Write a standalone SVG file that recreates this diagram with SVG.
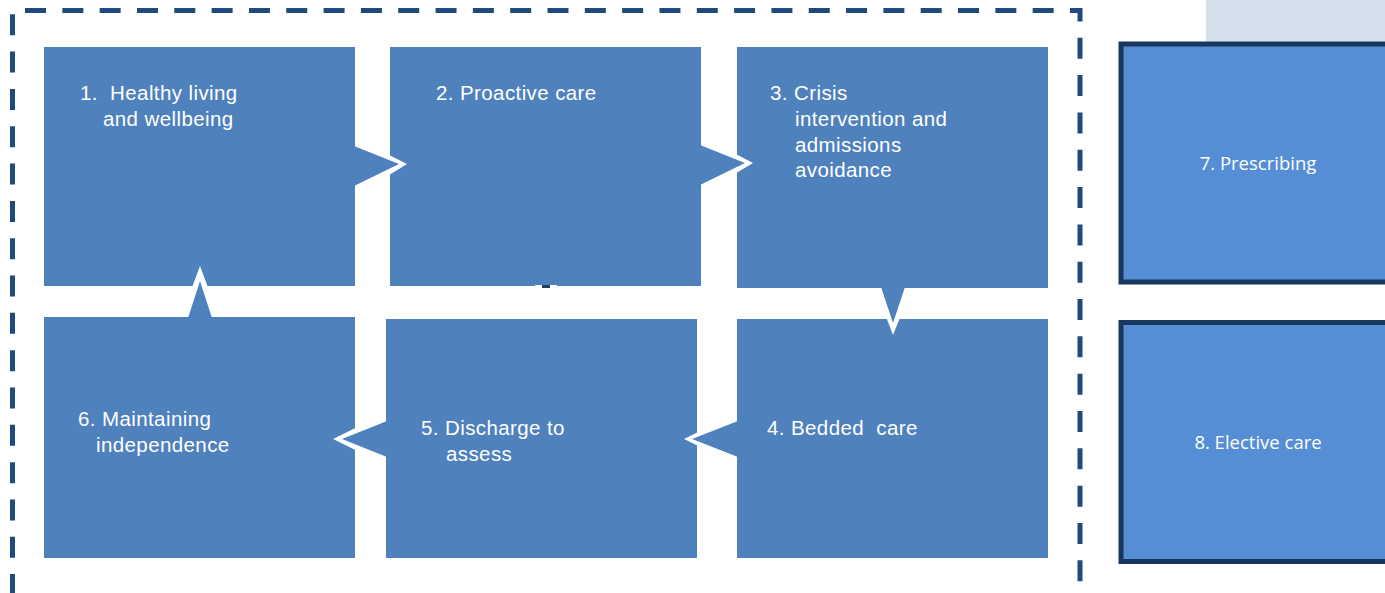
<svg xmlns="http://www.w3.org/2000/svg" width="1385" height="593" viewBox="0 0 1385 593">
<style>
.box{fill:#4f81bd}
.side{fill:#558ed5;stroke:#17375e;stroke-width:5}
.halo{fill:#ffffff}
.tip{fill:#4f81bd}
.t{font-family:"Liberation Sans",Arial,sans-serif;font-size:20.5px;letter-spacing:0.4px;fill:#ffffff;white-space:pre}
.s{font-family:"Open Sans","Liberation Sans",sans-serif;font-size:18.5px;fill:#ffffff;text-anchor:middle}
</style>
<rect width="1385" height="593" fill="#ffffff"/>
<rect x="1206" y="0" width="179" height="200" fill="#d6e0ed"/>
<path d="M12.5,600 V10.5 H1080 V600" fill="none" stroke="#1f4a7e" stroke-width="5" stroke-dasharray="21 16.32" stroke-dashoffset="32.42"/>

<g id="node1"><rect class="box" x="44" y="47" width="311" height="239"/>
<text class="t" x="80" y="100" xml:space="preserve">1.  Healthy living</text><text class="t" x="103" y="126">and wellbeing</text></g>
<g id="node2"><rect class="box" x="390" y="47" width="311" height="239"/>
<text class="t" x="436" y="100">2. Proactive care</text></g>
<g id="node3"><rect class="box" x="737" y="47" width="311" height="241"/>
<text class="t" x="770" y="100">3. Crisis</text><text class="t" x="795" y="126">intervention and</text><text class="t" x="795" y="152">admissions</text><text class="t" x="795" y="177">avoidance</text></g>
<g id="node4"><rect class="box" x="737" y="319" width="311" height="239"/>
<text class="t" x="767" y="435" xml:space="preserve">4. Bedded  care</text></g>
<g id="node5"><rect class="box" x="386" y="319" width="311" height="239"/>
<text class="t" x="421" y="435">5. Discharge to</text><text class="t" x="446" y="461">assess</text></g>
<g id="node6"><rect class="box" x="44" y="317" width="311" height="241"/>
<text class="t" x="78" y="426">6. Maintaining</text><text class="t" x="96" y="452">independence</text></g>
<g id="node7"><rect class="side" x="1121" y="44" width="280" height="238"/>
<text class="s" x="1258" y="170">7. Prescribing</text></g>
<g id="node8"><rect class="side" x="1121" y="322.5" width="280" height="239"/>
<text class="s" x="1258" y="449">8. Elective care</text></g>

<g id="connectors">
<polygon class="halo" points="355,138 407,164 355,196"/>
<polygon class="tip" points="354,146 399,164 354,186"/>
<polygon class="halo" points="701,136 753,163 701,194"/>
<polygon class="tip" points="700,145 745,163 700,185"/>
<polygon class="halo" points="875,288 893,335 912,288"/>
<polygon class="tip" points="881,287 893,323 905,287"/>
<polygon class="halo" points="737,413 684,439 737,465"/>
<polygon class="tip" points="738,421 692,439 738,457"/>
<polygon class="halo" points="386,413 333,439 386,465"/>
<polygon class="tip" points="387,421 342,439 387,457"/>
<polygon class="halo" points="181,317 200,266 219,317"/>
<polygon class="tip" points="188,318 200,281 212,318"/>
<rect x="535" y="285" width="22" height="2" fill="#ffffff"/>
<rect x="542" y="285" width="8" height="3" fill="#1f3f66"/>
</g>
</svg>
